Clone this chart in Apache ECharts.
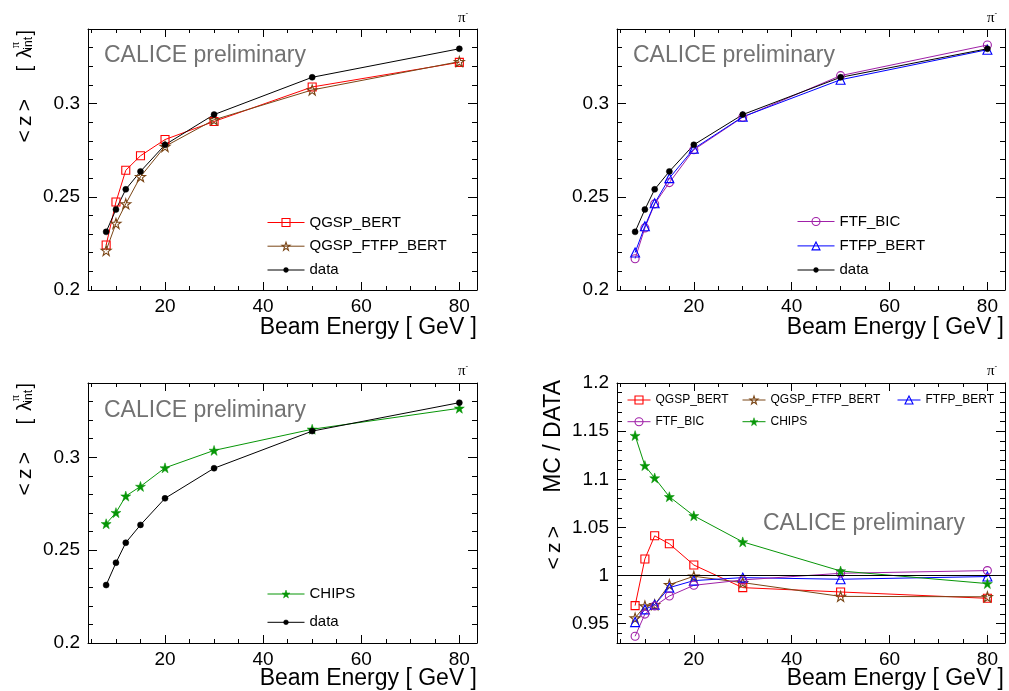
<!DOCTYPE html>
<html>
<head>
<meta charset="utf-8">
<script src="https://cdn.jsdelivr.net/npm/echarts@6/dist/echarts.min.js"></script>
<style>
html,body{margin:0;padding:0;background:#fff;}
#chart{width:1009px;height:691px;}
</style>
</head>
<body>
<div id="chart"></div>
<script>
// ---------------- data ----------------
const energy = [8, 10, 12, 15, 20, 30, 50, 80];

const dataZ         = [0.2312, 0.2432, 0.2540, 0.2636, 0.2779, 0.2941, 0.3141, 0.3294];
const qgspBertZ     = [0.2241, 0.2472, 0.2642, 0.2720, 0.2807, 0.2904, 0.3089, 0.3221];
const qgspFtfpBertZ = [0.2212, 0.2357, 0.2462, 0.2608, 0.2770, 0.2913, 0.3073, 0.3225];
const ftfBicZ       = [0.2168, 0.2333, 0.2462, 0.2576, 0.2752, 0.2927, 0.3150, 0.3314];
const ftfpBertZ     = [0.2201, 0.2342, 0.2465, 0.2600, 0.2758, 0.2929, 0.3128, 0.3289];
const chipsZ        = [0.2642, 0.2702, 0.2791, 0.2843, 0.2943, 0.3037, 0.3151, 0.3264];

const qgspBertR     = [0.9688, 1.0173, 1.0413, 1.0330, 1.0110, 0.9875, 0.9830, 0.9764];
const qgspFtfpBertR = [0.9559, 0.9684, 0.9698, 0.9906, 0.9993, 0.9927, 0.9784, 0.9780];
const ftfpBertR     = [0.9517, 0.9649, 0.9698, 0.9875, 0.9948, 0.9979, 0.9962, 0.9990];
const ftfBicR       = [0.9370, 0.9600, 0.9684, 0.9788, 0.9899, 0.9955, 1.0024, 1.0052];
const chipsR        = [1.1454, 1.1142, 1.1014, 1.0819, 1.0621, 1.0350, 1.0048, 0.9917];
const ratioRef = 1;

// tick values
const xMajorTicks = [20, 40, 60, 80];
const xMinorTicks = [5, 10, 15, 25, 30, 35, 45, 50, 55, 65, 70, 75];
const zMajorTicks = [0.2, 0.25, 0.3];
const zMinorTicks = [0.21, 0.22, 0.23, 0.24, 0.26, 0.27, 0.28, 0.29, 0.31, 0.32, 0.33];
const rMajorTicks = [0.95, 1, 1.05, 1.1, 1.15, 1.2];
const rMinorTicks = [0.94, 0.96, 0.97, 0.98, 0.99, 1.01, 1.02, 1.03, 1.04, 1.06, 1.07, 1.08, 1.09,
                     1.11, 1.12, 1.13, 1.14, 1.16, 1.17, 1.18, 1.19];

const xTitle = 'Beam Energy [ GeV ]';
const watermark = 'CALICE preliminary';

// ---------------- styling helpers ----------------
const FONT = '"Liberation Sans", Arial, Helvetica, sans-serif';
const C = {
  red: '#ff0000', brown: '#7a4616', blue: '#0000ff', purple: '#a020a8',
  green: '#079607', black: '#000000', gray: '#727272'
};
const STAR = 'path://M50,0 L61.8,35.1 L98.1,35.1 L68.8,56.8 L79.4,91.9 L50,70.4 L20.6,91.9 L31.2,56.8 L1.9,35.1 L38.2,35.1 Z';

const grids = [
  {left: 88,  top: 29,  width: 389, height: 261},
  {left: 617, top: 29,  width: 388, height: 261},
  {left: 88,  top: 383, width: 389, height: 260},
  {left: 617, top: 383, width: 388, height: 260}
];
const yRanges = [[0.2, 0.34], [0.2, 0.34], [0.2, 0.34], [0.93, 1.2]];
const xRange = [4.3, 83.6];

const xAxes = [], yAxes = [];
function axisSet(gi) {
  const ymaj = gi === 3 ? rMajorTicks : zMajorTicks;
  const ymin = gi === 3 ? rMinorTicks : zMinorTicks;
  const line = {show: true, onZero: false, lineStyle: {color: '#000', width: 1}};
  const base = {gridIndex: gi, type: 'value', splitLine: {show: false}, axisPointer: {show: false}};
  [['bottom', true], ['top', false]].forEach(([pos, lab]) => {
    xAxes.push(Object.assign({}, base, {
      position: pos, min: xRange[0], max: xRange[1], axisLine: line,
      axisTick: {show: true, inside: true, length: 8, customValues: xMajorTicks, lineStyle: {color: '#000'}},
      axisLabel: {show: lab, customValues: xMajorTicks, margin: 7, fontSize: 19, fontFamily: FONT, color: '#000'}
    }));
    xAxes.push(Object.assign({}, base, {
      position: pos, min: xRange[0], max: xRange[1], axisLine: {show: false},
      axisTick: {show: true, inside: true, length: 4, customValues: xMinorTicks, lineStyle: {color: '#000'}},
      axisLabel: {show: false}
    }));
  });
  [['left', true], ['right', false]].forEach(([pos, lab]) => {
    yAxes.push(Object.assign({}, base, {
      position: pos, min: yRanges[gi][0], max: yRanges[gi][1], axisLine: line,
      axisTick: {show: true, inside: true, length: 9, customValues: ymaj, lineStyle: {color: '#000'}},
      axisLabel: {show: lab, customValues: ymaj, margin: 8, fontSize: 19, fontFamily: FONT, color: '#000'}
    }));
    yAxes.push(Object.assign({}, base, {
      position: pos, min: yRanges[gi][0], max: yRanges[gi][1], axisLine: {show: false},
      axisTick: {show: true, inside: true, length: 5, customValues: ymin, lineStyle: {color: '#000'}},
      axisLabel: {show: false}
    }));
  });
}
[0, 1, 2, 3].forEach(axisSet);

const pairs = vals => energy.map((e, i) => [e, vals[i]]);
const styles = {
  'QGSP_BERT':      {symbol: 'rect', symbolSize: 8, color: C.red, hollow: true},
  'QGSP_FTFP_BERT': {symbol: STAR, symbolSize: [10, 10], color: C.brown, hollow: true},
  'FTF_BIC':        {symbol: 'circle', symbolSize: 8, color: C.purple, hollow: true},
  'FTFP_BERT':      {symbol: 'triangle', symbolSize: 9, color: C.blue, hollow: true},
  'CHIPS':          {symbol: STAR, symbolSize: [10, 10], color: C.green, hollow: false},
  'data':           {symbol: 'circle', symbolSize: 6, color: C.black, hollow: false}
};
const itemStyleOf = name => {
  const s = styles[name];
  return s.hollow ? {color: 'rgba(255,255,255,0)', borderColor: s.color, borderWidth: 1.1}
                  : {color: s.color, borderColor: s.color, borderWidth: 0.5};
};
function mk(name, gi, vals, extra) {
  const s = styles[name];
  return Object.assign({
    type: 'line', name: name, xAxisIndex: gi * 4, yAxisIndex: gi * 4,
    data: pairs(vals), symbol: s.symbol, symbolSize: s.symbolSize, showAllSymbol: true,
    lineStyle: {color: s.color, width: 1},
    itemStyle: itemStyleOf(name),
    emphasis: {disabled: true}, silent: true, z: 3
  }, extra || {});
}

const series = [
  mk('QGSP_BERT', 0, qgspBertZ),
  mk('QGSP_FTFP_BERT', 0, qgspFtfpBertZ),
  mk('data', 0, dataZ),
  mk('FTF_BIC', 1, ftfBicZ),
  mk('FTFP_BERT', 1, ftfpBertZ),
  mk('data', 1, dataZ),
  mk('CHIPS', 2, chipsZ),
  mk('data', 2, dataZ),
  mk('QGSP_BERT', 3, qgspBertR, {markLine: {silent: true, symbol: 'none', label: {show: false},
      lineStyle: {color: '#000', width: 1, type: 'solid'}, data: [{yAxis: ratioRef}]}}),
  mk('QGSP_FTFP_BERT', 3, qgspFtfpBertR),
  mk('FTFP_BERT', 3, ftfpBertR),
  mk('FTF_BIC', 3, ftfBicR),
  mk('CHIPS', 3, chipsR)
];

function legend(left, top, names, opt) {
  return Object.assign({
    left: left, top: top, orient: 'vertical', selectedMode: false,
    itemWidth: 37, itemHeight: 10, itemGap: 8.7, padding: 0,
    textStyle: {fontSize: 15, fontFamily: FONT, color: '#000'},
    data: names.map(n => ({name: n, itemStyle: itemStyleOf(n),
                           lineStyle: {color: styles[n].color, width: 1}}))
  }, opt || {});
}
const small = {itemWidth: 23, itemHeight: 10, itemGap: 9.7, textStyle: {fontSize: 12, fontFamily: FONT, color: '#000'}};
const dot = {itemHeight: 6};
const legends = [
  legend(267, 215, ['QGSP_BERT', 'QGSP_FTFP_BERT']),
  legend(267, 262.5, ['data'], dot),
  legend(797, 214, ['FTF_BIC', 'FTFP_BERT'], {itemGap: 9.4}),
  legend(797, 262.5, ['data'], dot),
  legend(267, 586.5, ['CHIPS']),
  legend(267, 614.8, ['data'], dot),
  legend(627, 394, ['QGSP_BERT', 'FTF_BIC'], small),
  legend(742, 394, ['QGSP_FTFP_BERT', 'CHIPS'], small),
  legend(897, 394, ['FTFP_BERT'], small)
];

// ---------------- text graphics ----------------
function txt(x, y, text, size, opt) {
  return {type: 'text', x: x, y: y, silent: true, style: Object.assign({
    text: text, fontSize: size, fontFamily: FONT, fill: '#000', align: 'left', verticalAlign: 'middle'
  }, opt || {})};
}
function lambdaTitle(x, y0) {
  return {type: 'group', x: x, y: y0, rotation: Math.PI / 2, silent: true, children: [
    txt(0, 0, ']', 20, {align: 'right'}),
    txt(-7, 4, 'int', 12, {align: 'right'}),
    txt(-12, -9, 'π', 12, {align: 'right', fontFamily: '"Liberation Serif", serif'}),
    txt(-18, 0, 'λ', 20, {align: 'right'}),
    txt(-36, 0, '[', 20, {align: 'right'}),
    txt(-69, 0, '<\u2009z\u2009>', 21, {align: 'right'})
  ]};
}
function ratioTitle(x, y0) {
  return {type: 'group', x: x, y: y0, rotation: Math.PI / 2, silent: true, children: [
    txt(0, 0, 'MC / DATA', 23, {align: 'right'}),
    txt(-146, 0, '<\u2009z\u2009>', 21, {align: 'right'})
  ]};
}
function piLabel(x, y) {
  return {type: 'text', x: x, y: y, silent: true, style: {
    text: 'π{s|-}', align: 'center', verticalAlign: 'middle',
    fontSize: 15, fontFamily: '"Liberation Serif", serif', fill: '#000',
    rich: {s: {fontSize: 8, fontFamily: FONT, padding: [0, 0, 10, 0]}}
  }};
}
const graphics = [
  txt(104, 56, watermark, 23, {fill: C.gray}),
  txt(633, 56, watermark, 23, {fill: C.gray}),
  txt(104, 411, watermark, 23, {fill: C.gray}),
  txt(763, 524, watermark, 23, {fill: C.gray}),
  txt(477, 327.5, xTitle, 23, {align: 'right'}),
  txt(1004, 327.5, xTitle, 23, {align: 'right'}),
  txt(477, 679, xTitle, 23, {align: 'right'}),
  txt(1004, 679, xTitle, 23, {align: 'right'}),
  lambdaTitle(25, 30),
  lambdaTitle(25, 383),
  ratioTitle(554, 380),
  piLabel(463, 18), piLabel(992, 18), piLabel(463, 371), piLabel(992, 371)
];

const chart = echarts.init(document.getElementById('chart'), null, {renderer: 'canvas'});
chart.setOption({
  animation: false,
  backgroundColor: '#fff',
  grid: grids.map(g => Object.assign({containLabel: false}, g)),
  xAxis: xAxes,
  yAxis: yAxes,
  legend: legends,
  series: series,
  graphic: graphics
});
</script>
</body>
</html>
